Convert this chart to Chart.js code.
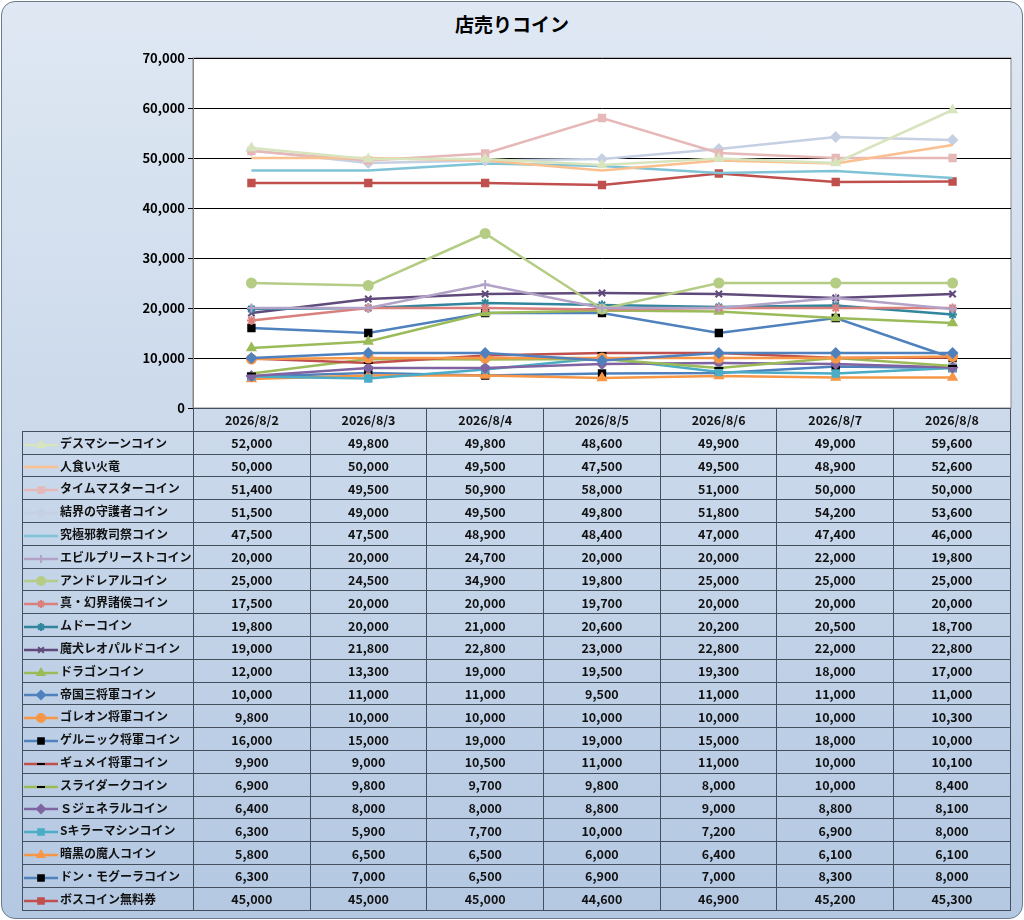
<!DOCTYPE html>
<html><head><meta charset="utf-8">
<script src="https://cdn.jsdelivr.net/npm/chart.js@4/dist/chart.umd.min.js"></script>
<style>
body{margin:0;background:#fff;font-family:"Noto Sans CJK JP",sans-serif;}
#frame{position:absolute;left:1px;top:1px;width:1020px;height:916px;border:1px solid #6b7a8c;border-radius:14px;background:linear-gradient(#dfe8f3,#b4c8e2);}
#title{position:absolute;left:0;top:10px;width:1024px;text-align:center;font-size:19px;font-weight:bold;color:#000;}
#wrap{position:absolute;left:0;top:0;width:1024px;height:420px;}
table{position:absolute;left:22px;top:408px;border-collapse:collapse;table-layout:fixed;width:988px;font-size:12.5px;font-weight:bold;color:#111;}
td{border:1px solid #44505e;height:21.8px;padding:0;text-align:center;overflow:hidden;}
td.name{text-align:left;white-space:nowrap;font-size:12px;}
td.name canvas{vertical-align:middle;margin:0 2px 0 1px;}
</style></head><body>
<div id="frame"></div>
<div id="title">店売りコイン</div>
<div id="wrap"><canvas id="c" width="1024" height="420"></canvas></div>
<table id="t"><colgroup><col style="width:171px"><col span="7" style="width:116.7px"></colgroup></table>
<script>
const labels = ['2026/8/2','2026/8/3','2026/8/4','2026/8/5','2026/8/6','2026/8/7','2026/8/8'];

// nom, couleur de ligne, marqueur, couleur marqueur, valeurs
const series = [
    ['デスマシーンコイン', '#d7e4bd', 'triangle', null, [52000,49800,49800,48600,49900,49000,59600]],
    ['人食い火竜', '#fac090', false, null, [50000,50000,49500,47500,49500,48900,52600]],
    ['タイムマスターコイン', '#e6b9b8', 'rect', null, [51400,49500,50900,58000,51000,50000,50000]],
    ['結界の守護者コイン', '#c6d0e3', 'rectRot', null, [51500,49000,49500,49800,51800,54200,53600]],
    ['究極邪教司祭コイン', '#7fc3d7', false, null, [47500,47500,48900,48400,47000,47400,46000]],
    ['エビルプリーストコイン', '#b3a2c7', 'cross', null, [20000,20000,24700,20000,20000,22000,19800]],
    ['アンドレアルコイン', '#b5cc85', 'circle', null, [25000,24500,34900,19800,25000,25000,25000]],
    ['真・幻界諸侯コイン', '#d9807d', 'star', null, [17500,20000,20000,19700,20000,20000,20000]],
    ['ムドーコイン', '#31859c', 'star', null, [19800,20000,21000,20600,20200,20500,18700]],
    ['魔犬レオパルドコイン', '#604a7b', 'crossRot', null, [19000,21800,22800,23000,22800,22000,22800]],
    ['ドラゴンコイン', '#9bbb59', 'triangle', null, [12000,13300,19000,19500,19300,18000,17000]],
    ['帝国三将軍コイン', '#4f81bd', 'rectRot', null, [10000,11000,11000,9500,11000,11000,11000]],
    ['ゴレオン将軍コイン', '#f79646', 'circle', null, [9800,10000,10000,10000,10000,10000,10300]],
    ['ゲルニック将軍コイン', '#4f81bd', 'rect', '#000', [16000,15000,19000,19000,15000,18000,10000]],
    ['ギュメイ将軍コイン', '#c0504d', 'line', '#000', [9900,9000,10500,11000,11000,10000,10100]],
    ['スライダークコイン', '#9bbb59', 'line', '#000', [6900,9800,9700,9800,8000,10000,8400]],
    ['Ｓジェネラルコイン', '#8064a2', 'rectRot', null, [6400,8000,8000,8800,9000,8800,8100]],
    ['Sキラーマシンコイン', '#4bacc6', 'rect', null, [6300,5900,7700,10000,7200,6900,8000]],
    ['暗黒の魔人コイン', '#f79646', 'triangle', null, [5800,6500,6500,6000,6400,6100,6100]],
    ['ドン・モグーラコイン', '#4f81bd', 'rect', '#000', [6300,7000,6500,6900,7000,8300,8000]],
    ['ボスコイン無料券', '#c0504d', 'rect', null, [45000,45000,45000,44600,46900,45200,45300]]
];

const datasets = series.map(s => ({
    label: s[0],
    data: s[4],
    borderColor: s[1],
    backgroundColor: s[3] || s[1],
    pointBorderColor: s[3] || s[1],
    pointBackgroundColor: s[3] || s[1],
    pointStyle: s[2],
    pointRadius: s[2] ? 4.5 : 0,
    pointBorderWidth: 2,
    borderWidth: 2.5
}));

// fond blanc de la zone de tracé
const plotBg = {
    id: 'plotBg',
    beforeDraw(chart) {
        const a = chart.chartArea, ctx = chart.ctx;
        ctx.save();
        ctx.fillStyle = '#fff';
        ctx.fillRect(a.left, a.top, a.right - a.left, a.bottom - a.top);
        ctx.strokeStyle = '#888';
        ctx.strokeRect(a.left, a.top, a.right - a.left, a.bottom - a.top);
        ctx.restore();
    }
};

new Chart(document.getElementById('c'), {
    type: 'line',
    data: { labels: labels, datasets: datasets },
    plugins: [plotBg],
    options: {
        responsive: false,
        animation: false,
        layout: { padding: { left: 110, right: 13, top: 58, bottom: 12 } },
        plugins: { legend: { display: false }, tooltip: { enabled: false } },
        scales: {
            x: { display: false, offset: true },
            y: {
                min: 0, max: 70000,
                afterFit: a => { a.width = 83; },
                ticks: {
                    stepSize: 10000, color: '#000',
                    font: { family: 'Noto Sans CJK JP', size: 13, weight: 'bold' },
                    callback: v => v.toLocaleString('en-US')
                },
                grid: { color: '#000', drawTicks: true, tickLength: 5 },
                border: { color: '#888' }
            }
        }
    }
});

// tableau de données
const t = document.getElementById('t');
let html = '<tr><td class="name" style="border-top:none;border-left:none"></td>' + labels.map(l => `<td>${l}</td>`).join('') + '</tr>';
series.forEach((s, i) => {
    html += `<tr><td class="name"><canvas id="lg${i}" width="34" height="14"></canvas>${s[0]}</td>` +
        s[4].map(v => `<td>${v.toLocaleString('en-US')}</td>`).join('') + '</tr>';
});
t.insertAdjacentHTML('beforeend', html);
series.forEach((s, i) => {
    const ctx = document.getElementById('lg' + i).getContext('2d');
    ctx.strokeStyle = s[1]; ctx.lineWidth = 2.5;
    ctx.beginPath(); ctx.moveTo(0, 7); ctx.lineTo(34, 7); ctx.stroke();
    if (s[2]) {
        ctx.fillStyle = s[3] || s[1]; ctx.strokeStyle = s[3] || s[1]; ctx.lineWidth = 2;
        Chart.helpers.drawPoint(ctx, { pointStyle: s[2], radius: 4, rotation: 0, borderWidth: 2 }, 17, 7);
    }
});
</script>
</body></html>
